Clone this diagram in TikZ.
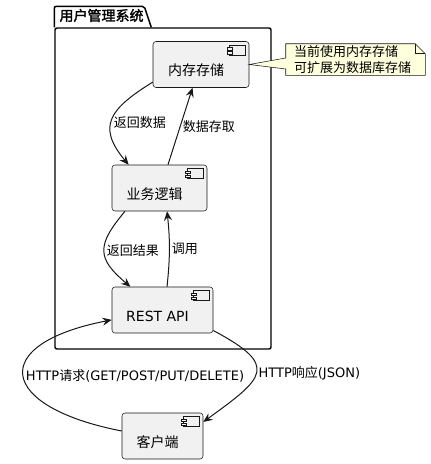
\documentclass[tikz,border=0pt]{standalone}
\usepackage{fontspec}
\setmainfont{DejaVu Sans}
\newfontfamily\cjk{Noto Sans CJK SC}[AutoFakeBold=2]
\usetikzlibrary{arrows.meta}

\definecolor{compfill}{HTML}{F1F1F1}
\definecolor{edgecol}{HTML}{181818}
\definecolor{notefill}{HTML}{FEFFDD}

\tikzset{
    comp/.style={draw=edgecol, line width=0.4pt, fill=compfill, rounded corners=2.25pt,
        minimum height=34.5pt, inner sep=0pt},
    comptext/.style={font=\fontsize{10.5}{12}\selectfont, xshift=-3.75pt, yshift=-4.5pt},
    icon/.style={draw=edgecol, line width=0.4pt, fill=compfill},
    pkgline/.style={draw=black, line width=1.1pt, rounded corners=1.5pt},
    notebox/.style={draw=edgecol, line width=0.4pt, fill=notefill},
    flow/.style={draw=edgecol, line width=0.75pt, -{Stealth[length=7pt,width=6pt,inset=2.5pt]}},
    lbl/.style={font=\fontsize{9.75}{11}\selectfont, inner sep=1.5pt}
}

\begin{document}
\begin{tikzpicture}[x=0.75pt, y=0.75pt]

    \useasboundingbox (0,0) rectangle (430,-464);

    %% Package

    \node[pkgline, minimum width=162pt, minimum height=240.75pt, inner sep=0pt] (pkg) at (163,-188.5) {};
    \draw[pkgline] (pkg.north west) -- ++(0,21) -- ++(90,0) -- ++(7,-21);
    \node[anchor=south west, inner sep=0pt, font=\cjk\bfseries\fontsize{10.5}{12}\selectfont] (pkgtitle)
        at ([shift={(5,5)}]pkg.north west) {用户管理系统};

    % Components
    \node[comp, minimum width=72pt] (mem) at (201,-64.5) {};
    \node[comp, minimum width=71.25pt] (logic) at (159.5,-188) {};
    \node[comp, minimum width=75.75pt] (api) at (162.5,-310) {};
    \node[comp, minimum width=60.75pt] (client) at (162.5,-436) {};

    \node[comptext] at (mem.center) {\cjk 内存存储};
    \node[comptext] at (logic.center) {\cjk 业务逻辑};
    \node[comptext] at (api.center) {REST API};
    \node[comptext] at (client.center) {\cjk 客户端};

    % Component icons
    \foreach \n in {mem,logic,api,client} {
        \draw[icon] ([shift={(-20,-4)}]\n.north east) rectangle ++(16,-10);
        \draw[icon] ([shift={(-22,-6.5)}]\n.north east) rectangle ++(5,-2.5);
        \draw[icon] ([shift={(-22,-10.5)}]\n.north east) rectangle ++(5,-2.5);
    }

    % Note
    \node[minimum width=104.25pt, minimum height=23.25pt, inner sep=0pt] (note) at (355.5,-59.5) {};
    \draw[notebox] (note.north west) -- ([shift={(-10,0)}]note.north east)
        -- ([shift={(0,-10)}]note.north east) -- (note.south east) -- (note.south west)
        -- ([shift={(0,-9.5)}]note.west) -- (mem.east) -- ([shift={(0,1.5)}]note.west) -- cycle;
    \draw[notebox, fill=none] ([shift={(-10,0)}]note.north east) |- ([shift={(0,-10)}]note.north east);
    \node[align=left, inner sep=0pt, font=\cjk\fontsize{9.75}{12}\selectfont] (notetxt)
        at ([shift={(-3,0)}]note.center) {当前使用内存存储\\可扩展为数据库存储};

    %% Connectors

    \draw[flow] (mem.200) to[out=212, in=130, looseness=1.5]
        node[lbl, pos=0.55, right] {\cjk 返回数据} (logic.143);
    \draw[flow] (logic.70) -- node[lbl, pos=0.5, right] {\cjk 数据存取} (mem.250);
    \draw[flow] (logic.214) to[out=230, in=140, looseness=1.5]
        node[lbl, right] {\cjk 返回结果} (api.144);
    \draw[flow] (api.79) to[bend right=6] node[lbl, right] {\cjk 调用} (logic.288);
    \draw[flow] (client.173) to[out=169, in=191, looseness=2.9]
        node[lbl, right] {HTTP{\cjk 请求}(GET/POST/PUT/DELETE)} (api.191);
    \draw[flow] (api.338) to[out=332, in=36, looseness=2.1]
        node[lbl, right] {HTTP{\cjk 响应}(JSON)} (client.19);

\end{tikzpicture}
\end{document}
